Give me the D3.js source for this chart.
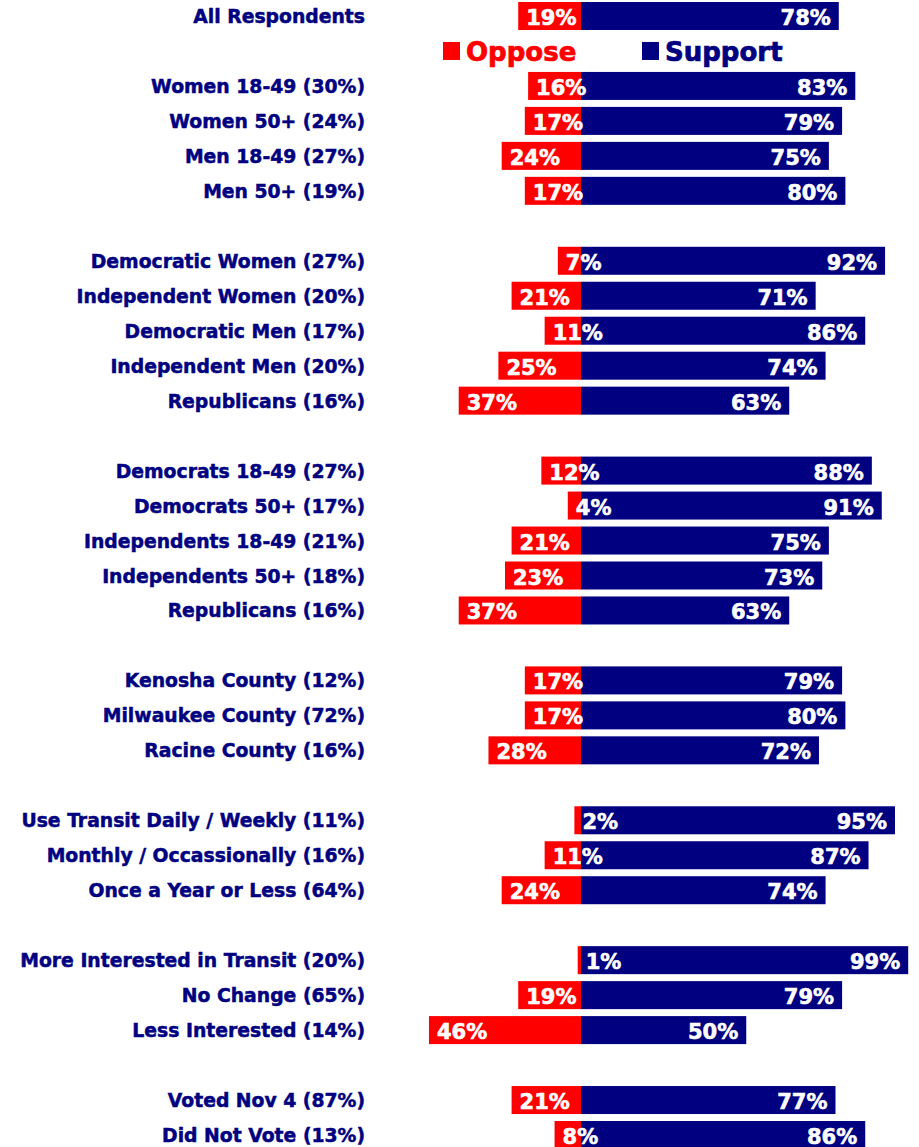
<!DOCTYPE html>
<html>
<head>
<meta charset="utf-8">
<script src="https://cdn.jsdelivr.net/npm/d3@7"></script>
<style>
  body { margin: 0; background: #fff; }
  svg { display: block; }
  text { font-family: "DejaVu Sans", Verdana, sans-serif; font-weight: bold; }
</style>
</head>
<body>
<div id="chart"></div>
<script>
// rows, "" = empty slot (legend line / gap between groups)
var categories = [
  "All Respondents", "",
  "Women 18-49 (30%)", "Women 50+ (24%)", "Men 18-49 (27%)", "Men 50+ (19%)", "",
  "Democratic Women (27%)", "Independent Women (20%)", "Democratic Men (17%)", "Independent Men (20%)", "Republicans (16%)", "",
  "Democrats 18-49 (27%)", "Democrats 50+ (17%)", "Independents 18-49 (21%)", "Independents 50+ (18%)", "Republicans (16%)", "",
  "Kenosha County (12%)", "Milwaukee County (72%)", "Racine County (16%)", "",
  "Use Transit Daily / Weekly (11%)", "Monthly / Occassionally (16%)", "Once a Year or Less (64%)", "",
  "More Interested in Transit (20%)", "No Change (65%)", "Less Interested (14%)", "",
  "Voted Nov 4 (87%)", "Did Not Vote (13%)"
];
var oppose = [
  19, null,
  16, 17, 24, 17, null,
  7, 21, 11, 25, 37, null,
  12, 4, 21, 23, 37, null,
  17, 17, 28, null,
  2, 11, 24, null,
  1, 19, 46, null,
  21, 8
];
var support = [
  78, null,
  83, 79, 75, 80, null,
  92, 71, 86, 74, 63, null,
  88, 91, 75, 73, 63, null,
  79, 80, 72, null,
  95, 87, 74, null,
  99, 79, 50, null,
  77, 86
];
var legendKeys = ["Oppose", "Support"];
var colors = { Oppose: "#ff0000", Support: "#000080" };

var width = 919, height = 1147;
var barH = 28;

var rows = categories.map(function(c, i) {
  return { i: i, label: c, oppose: oppose[i], support: support[i] };
});
var dataRows = rows.filter(function(d) { return d.support != null; });

var svg = d3.select("#chart").append("svg")
  .attr("width", width)
  .attr("height", height);

// center line at 581, 3.305px per percent
var x = d3.scaleLinear().domain([-100, 100]).range([581 - 330.5, 581 + 330.5]);
var y = d3.scalePoint().domain(d3.range(categories.length)).range([16, 1135]);

// row labels
svg.append("g").selectAll("text")
  .data(dataRows)
  .enter().append("text")
  .attr("x", 365)
  .attr("y", function(d) { return y(d.i) + 7; })
  .attr("text-anchor", "end")
  .attr("font-size", 18.8)
  .attr("fill", "#000080")
  .attr("stroke", "#000080")
  .attr("stroke-width", 0.5)
  .text(function(d) { return d.label; });

// oppose bars
svg.append("g").selectAll("rect")
  .data(dataRows)
  .enter().append("rect")
  .attr("x", function(d) { return x(-d.oppose); })
  .attr("y", function(d) { return y(d.i) - barH / 2; })
  .attr("width", function(d) { return x(0) - x(-d.oppose); })
  .attr("height", barH)
  .attr("fill", colors.Oppose);

// support bars
svg.append("g").selectAll("rect")
  .data(dataRows)
  .enter().append("rect")
  .attr("x", x(0))
  .attr("y", function(d) { return y(d.i) - barH / 2; })
  .attr("width", function(d) { return x(d.support) - x(0); })
  .attr("height", barH)
  .attr("fill", colors.Support);

// value labels
svg.append("g").selectAll("text")
  .data(dataRows)
  .enter().append("text")
  .attr("x", function(d) { return x(-d.oppose) + 8; })
  .attr("y", function(d) { return y(d.i) + 9; })
  .attr("font-size", 21)
  .attr("fill", "#fff")
  .attr("stroke", "#fff")
  .attr("stroke-width", 0.6)
  .text(function(d) { return d.oppose + "%"; });

svg.append("g").selectAll("text")
  .data(dataRows)
  .enter().append("text")
  .attr("x", function(d) { return x(d.support) - 8; })
  .attr("y", function(d) { return y(d.i) + 9; })
  .attr("text-anchor", "end")
  .attr("font-size", 21)
  .attr("fill", "#fff")
  .attr("stroke", "#fff")
  .attr("stroke-width", 0.6)
  .text(function(d) { return d.support + "%"; });

// legend in the empty slot under All Respondents
var legendX = [443, 642];
var legend = svg.append("g").selectAll("g")
  .data(legendKeys)
  .enter().append("g")
  .attr("transform", function(d, i) { return "translate(" + legendX[i] + "," + y(1) + ")"; });

legend.append("rect")
  .attr("x", 0)
  .attr("y", -9)
  .attr("width", 17)
  .attr("height", 18)
  .attr("fill", function(d) { return colors[d]; });

legend.append("text")
  .attr("x", 23)
  .attr("y", 10)
  .attr("font-size", 26)
  .attr("fill", function(d) { return colors[d]; })
  .attr("stroke", function(d) { return colors[d]; })
  .attr("stroke-width", 0.7)
  .text(function(d) { return d; });
</script>
</body>
</html>
